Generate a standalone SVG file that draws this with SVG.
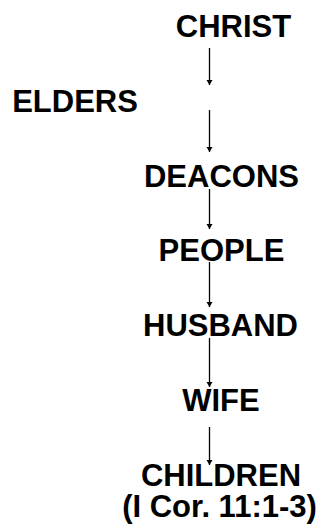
<svg xmlns="http://www.w3.org/2000/svg" width="325" height="527" viewBox="0 0 325 527">
<style>
text{font-family:"Liberation Sans",Arial,sans-serif;font-weight:bold;font-size:31px;fill:#000;text-anchor:middle}
.c line{stroke:#000;stroke-width:1.3;marker-end:url(#ah)}
</style>
<defs>
<marker id="ah" markerUnits="userSpaceOnUse" markerWidth="6" markerHeight="8" refX="5" refY="3" orient="auto">
<path d="M0,0 L5,3 L0,6 Z" fill="#000"/>
</marker>
</defs>
<rect width="325" height="527" fill="#fff"/>
<g class="c">
<line x1="209.5" y1="48" x2="209.5" y2="85"/>
<line x1="209.5" y1="110" x2="209.5" y2="152"/>
<line x1="209.5" y1="189" x2="209.5" y2="229"/>
<line x1="209.5" y1="262" x2="209.5" y2="307"/>
<line x1="209.5" y1="338" x2="209.5" y2="387"/>
<line x1="209.5" y1="427" x2="209.5" y2="465"/>
</g>
<g id="christ"><text x="233.5" y="37">CHRIST</text></g>
<g id="elders"><text x="75" y="112">ELDERS</text></g>
<g id="deacons"><text x="221.5" y="187">DEACONS</text></g>
<g id="people"><text x="221.5" y="261">PEOPLE</text></g>
<g id="husband"><text x="220.5" y="336">HUSBAND</text></g>
<g id="wife"><text x="221" y="411">WIFE</text></g>
<g id="children"><text x="221" y="486">CHILDREN</text><text x="219.5" y="517">(I Cor. 11:1-3)</text></g>
</svg>
